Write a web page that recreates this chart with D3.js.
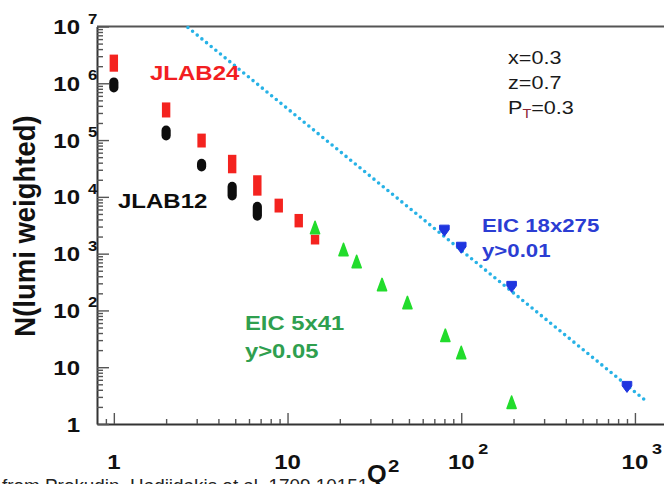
<!DOCTYPE html>
<html>
<head>
<meta charset="utf-8">
<script src="https://cdn.jsdelivr.net/npm/d3@7"></script>
<style>
  html, body { margin: 0; padding: 0; background: #fff; overflow: hidden; }
  svg { display: block; }
  text { font-family: "Liberation Sans", Arial, Helvetica, sans-serif; }
</style>
</head>
<body>
<svg id="chart" width="664" height="484"></svg>
<script>
// ---- data ----
// JLAB points: Q^2 bins with the low/high edge of each box
const jlabQ2      = [1, 2, 3.2, 4.8, 6.7, 8.9, 11.6, 14.4];
const jlab24Low   = [1.6e6, 2.5e5, 7.4e4, 2.6e4, 1.05e4, 5.3e3, 2.9e3, 1.45e3];
const jlab24High  = [3.2e6, 4.6e5, 1.3e5, 5.5e4, 2.4e4, 9.3e3, 5.0e3, 2.15e3];
const jlab12Q2    = [1, 2, 3.2, 4.8, 6.7];
const jlab12Low   = [6.9e5, 9.8e4, 2.8e4, 8.6e3, 3.8e3];
const jlab12High  = [1.27e6, 1.8e5, 4.7e4, 1.85e4, 8.2e3];

// EIC 5x41, y>0.05
const eic541Q2 = [14.4, 21, 25, 35, 49, 81, 100, 195];
const eic541N  = [2860, 1170, 720, 282, 136, 36, 18, 2.4];

// EIC 18x275, y>0.01
const eic18Q2 = [80, 100, 195, 900];
const eic18N  = [2540, 1270, 260, 4.5];

// dotted guide line (two end points)
const guideQ2 = [2.67, 1140];
const guideN  = [9.6e6, 2.65];

// axis ticks and labels: [base, exponent]
const xMajor = [1, 10, 100, 1000];
const xMajorLabels = [["1", ""], ["10", ""], ["10", "2"], ["10", "3"]];
const yMajor = [1, 10, 1e2, 1e3, 1e4, 1e5, 1e6, 1e7];
const yMajorLabels = [["1", ""], ["10", ""], ["10", "2"], ["10", "3"],
                      ["10", "4"], ["10", "5"], ["10", "6"], ["10", "7"]];

const infoLines = ["x=0.3", "z=0.7"];

// ---- layout ----
const svg = d3.select("#chart");
const x = d3.scaleLog().domain([0.8, 1470]).range([97, 664]);
const y = d3.scaleLog().domain([1, 1e7]).range([424, 26.5]);

// horizontally widened text helper
function stext(parent, str, px, py, size, sx, opts = {}) {
  const t = parent.append("text")
    .attr("transform", `translate(${px},${py}) scale(${sx},1)`)
    .attr("font-size", size)
    .attr("font-weight", opts.weight || "bold")
    .attr("fill", opts.fill || "#111")
    .attr("text-anchor", opts.anchor || "start")
    .text(str);
  return t;
}

// tick values: majors plus 2..9 of every decade
const isMajor = v => Math.abs(Math.log10(v) - Math.round(Math.log10(v))) < 1e-9;
const xTicks = [0.9];
[1, 10, 100].forEach(d => { for (let k = 1; k <= 9; k++) xTicks.push(k * d); });
xTicks.push(1000);
const yTicks = [];
[1, 10, 1e2, 1e3, 1e4, 1e5, 1e6].forEach(d => { for (let k = 1; k <= 9; k++) yTicks.push(k * d); });
yTicks.push(1e7);

// ---- frame / axes ----
svg.append("line")
  .attr("x1", x.range()[0]).attr("x2", x.range()[1])
  .attr("y1", y.range()[1]).attr("y2", y.range()[1])
  .attr("stroke", "#555").attr("stroke-width", 2);

const gx = svg.append("g")
  .attr("transform", `translate(0,${y.range()[0]})`)
  .call(d3.axisBottom(x).tickValues(xTicks).tickSizeInner(-5).tickSizeOuter(0).tickFormat(""));
gx.selectAll(".tick line").filter(d => isMajor(d)).attr("y2", -11);

const gy = svg.append("g")
  .attr("transform", `translate(${x.range()[0]},0)`)
  .call(d3.axisLeft(y).tickValues(yTicks).tickSizeInner(-6).tickSizeOuter(0).tickFormat(""));
gy.selectAll(".tick line").filter(d => isMajor(d)).attr("x2", 12);

[gx, gy].forEach(g => {
  g.select(".domain").attr("stroke", "#333").attr("stroke-width", 2);
  g.selectAll(".tick line").attr("stroke", "#555").attr("stroke-width", 1.4);
});

// y tick labels
const yLab = svg.append("g");
yMajor.forEach((v, i) => {
  const [base, ex] = yMajorLabels[i];
  stext(yLab, base, 80, y(v) + 7.5, 20, 1.2, { anchor: "end" });
  if (ex) stext(yLab, ex, 88, y(v) - 3, 14, 1.2);
});

// x tick labels
const xLab = svg.append("g");
xMajor.forEach((v, i) => {
  const [base, ex] = xMajorLabels[i];
  stext(xLab, base, x(v), 469, 20, 1.2, { anchor: "middle" });
  if (ex) stext(xLab, ex, x(v) + 17, 454, 15, 1.2);
});

// source note along the bottom edge (runs off the page, under the Q^2 title)
stext(svg, "from Prokudin, Hadjidakis et al. 1709.10151", 2, 492, 18, 1.05,
      { weight: "normal", fill: "#222" });

// axis titles
svg.append("text")
  .attr("transform", "translate(35,226) scale(1.1,1) rotate(-90)")
  .attr("text-anchor", "middle")
  .attr("font-size", 27.5).attr("font-weight", "bold").attr("fill", "#111")
  .text("N(lumi weighted)");

stext(svg, "Q", 367, 482, 23, 1.1);
stext(svg, "2", 388, 472, 17, 1.2);

// ---- marks ----
const line = d3.line().x(d => x(d[0])).y(d => y(d[1]));
svg.append("path")
  .datum(guideQ2.map((q, i) => [q, guideN[i]]))
  .attr("d", line)
  .attr("fill", "none")
  .attr("stroke", "#27b2e6")
  .attr("stroke-width", 3.6)
  .attr("stroke-linecap", "round")
  .attr("stroke-dasharray", "0 6");

// JLAB24 boxes
svg.append("g").selectAll("rect")
  .data(jlabQ2.map((q, i) => ({ q, lo: jlab24Low[i], hi: jlab24High[i] })))
  .join("rect")
  .attr("x", d => x(d.q) - 4.2)
  .attr("width", 8.4)
  .attr("y", d => y(d.hi))
  .attr("height", d => y(d.lo) - y(d.hi))
  .attr("fill", "#f4231f");

// JLAB12 rounded blobs
svg.append("g").selectAll("rect")
  .data(jlab12Q2.map((q, i) => ({ q, lo: jlab12Low[i], hi: jlab12High[i] })))
  .join("rect")
  .attr("x", d => x(d.q) - 4.6)
  .attr("width", 9.2)
  .attr("y", d => y(d.hi))
  .attr("height", d => y(d.lo) - y(d.hi))
  .attr("rx", 4.6).attr("ry", 5)
  .attr("fill", "#0d0d0d");

// EIC 5x41 up triangles
const upTri = (cx, cy) => {
  const p = d3.path();
  p.moveTo(cx, cy - 6.5); p.lineTo(cx + 4.6, cy + 6); p.lineTo(cx - 4.6, cy + 6); p.closePath();
  return p.toString();
};
svg.append("g").selectAll("path")
  .data(eic541Q2.map((q, i) => [q, eic541N[i]]))
  .join("path")
  .attr("d", d => upTri(x(d[0]), y(d[1])))
  .attr("fill", "#22dc2c")
  .attr("stroke", "#22dc2c").attr("stroke-width", 1.5).attr("stroke-linejoin", "round");

// EIC 18x275 down shields
const downTri = (cx, cy) => {
  const p = d3.path();
  p.moveTo(cx - 4.8, cy - 5.5); p.lineTo(cx + 4.8, cy - 5.5); p.lineTo(cx + 4.8, cy - 1);
  p.lineTo(cx, cy + 5.5); p.lineTo(cx - 4.8, cy - 1); p.closePath();
  return p.toString();
};
svg.append("g").selectAll("path")
  .data(eic18Q2.map((q, i) => [q, eic18N[i]]))
  .join("path")
  .attr("d", d => downTri(x(d[0]), y(d[1])))
  .attr("fill", "#1f35df")
  .attr("stroke", "#1f35df").attr("stroke-width", 1).attr("stroke-linejoin", "round");

// ---- annotations ----
stext(svg, "JLAB24", 150, 80, 20, 1.2, { fill: "#f21e22" });
stext(svg, "JLAB12", 118, 208, 20, 1.2, { fill: "#0d0d0d" });
stext(svg, "EIC 18x275", 482, 232, 19, 1.17, { fill: "#2b3dd3" });
stext(svg, "y>0.01", 482, 257, 19, 1.17, { fill: "#2b3dd3" });
stext(svg, "EIC 5x41", 245, 330, 20, 1.19, { fill: "#2f9f4f" });
stext(svg, "y>0.05", 245, 358, 20, 1.19, { fill: "#2f9f4f" });

infoLines.forEach((s, i) => {
  stext(svg, s, 508, 64 + i * 25, 18, 1.2, { weight: "normal", fill: "#1a1a1a" });
});
const pt = stext(svg, "", 508, 114, 18, 1.2, { weight: "normal", fill: "#1a1a1a" });
pt.append("tspan").text("P");
pt.append("tspan").attr("dy", 4).attr("font-size", 12).attr("fill", "#8a2535").text("T");
pt.append("tspan").attr("dy", -4).text("=0.3");
</script>
</body>
</html>
